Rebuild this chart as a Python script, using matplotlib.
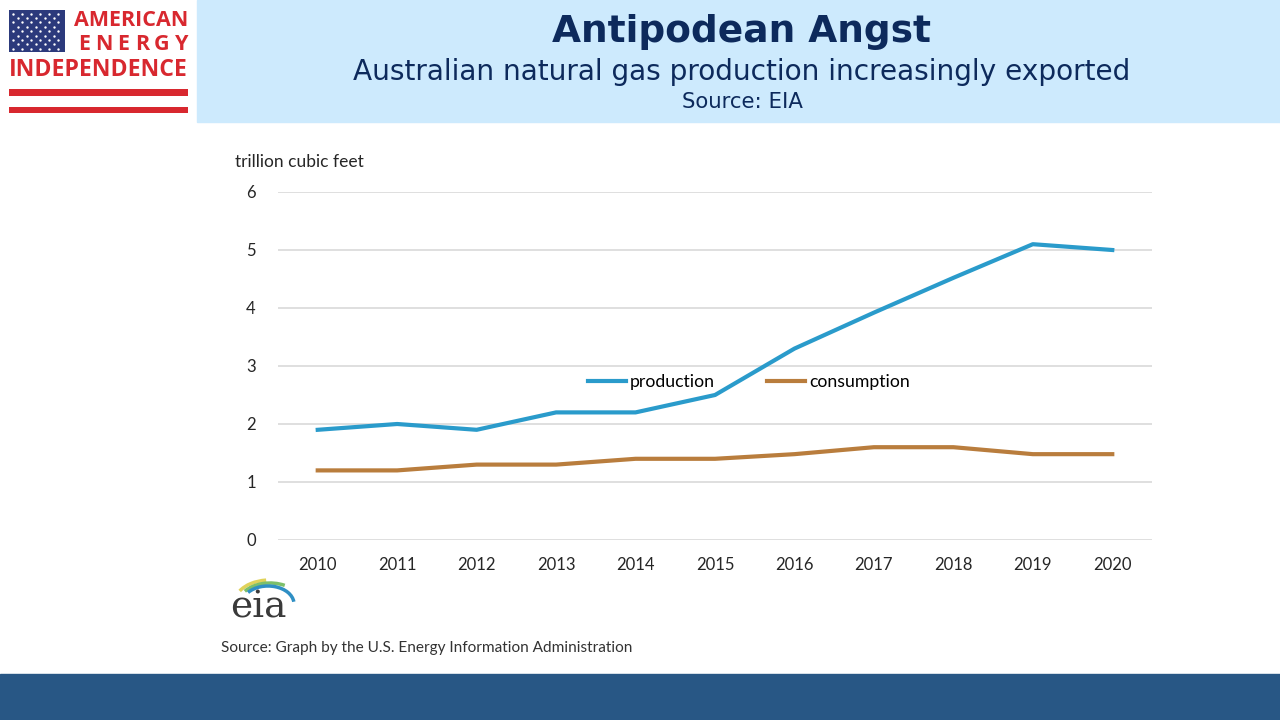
import numpy as np
import matplotlib
matplotlib.use("Agg")
import matplotlib.pyplot as plt
from matplotlib.patches import Rectangle, Arc

years = ["2010", "2011", "2012", "2013", "2014", "2015",
         "2016", "2017", "2018", "2019", "2020"]
production = [1.9, 2.0, 1.9, 2.2, 2.2, 2.5, 3.3, 3.92, 4.52, 5.1, 5.0]
consumption = [1.2, 1.2, 1.3, 1.3, 1.4, 1.4, 1.48, 1.6, 1.6, 1.48, 1.48]
yticks = [0, 1, 2, 3, 4, 5, 6]

W, H = 1280, 720
fig = plt.figure(figsize=(12.8, 7.2), dpi=100)
fig.patch.set_facecolor("white")

def fx(px):
    return px / W

def fy(py):
    return 1 - py / H

# Bandeau du haut et pied de page
fig.patches.append(Rectangle((fx(197), fy(122)), fx(W - 197), 122 / H,
                             transform=fig.transFigure, color="#cdeafd", zorder=0))
fig.patches.append(Rectangle((0, 0), 1, 46 / H,
                             transform=fig.transFigure, color="#285785", zorder=0))

# Titres
navy = "#0d2a5c"
fig.text(fx(742), fy(32), "Antipodean Angst", ha="center", va="center",
         fontsize=27, fontweight="bold", color=navy, family="DejaVu Sans")
fig.text(fx(742), fy(72), "Australian natural gas production increasingly exported",
         ha="center", va="center", fontsize=20.2, color=navy, family="DejaVu Sans")
fig.text(fx(742), fy(102), "Source: EIA", ha="center", va="center",
         fontsize=15.3, color=navy, family="DejaVu Sans")

# Logo American Energy Independence (décor)
red = "#d8282f"
logo = fig.add_axes([0, 0, 1, 1], zorder=2)
logo.set_xlim(0, W)
logo.set_ylim(H, 0)
logo.axis("off")
logo.add_patch(Rectangle((9, 10), 56, 42, color="#2c3a7c", lw=0))
sx, sy = [], []
for r in range(9):
    n = 6 if r % 2 == 0 else 5
    off = 13 if r % 2 == 0 else 17.5
    for c in range(n):
        sx.append(off + c * 9)
        sy.append(13.5 + r * 4.4)
logo.scatter(sx, sy, s=3, color="white", linewidths=0, zorder=3)
logo.text(188, 20, "AMERICAN", ha="right", va="center", fontsize=15.5,
          fontweight="bold", color=red, family="Open Sans")
for i, ch in enumerate("ENERGY"):
    logo.text(84 + i * 19.5, 45, ch, ha="center", va="center", fontsize=15.5,
              fontweight="bold", color=red, family="Open Sans")
logo.text(98.5, 70, "INDEPENDENCE", ha="center", va="center", fontsize=16.6,
          fontweight="bold", color=red, family="Open Sans")
logo.add_patch(Rectangle((9, 89), 179, 7, color=red, lw=0))
logo.add_patch(Rectangle((9, 107), 179, 6, color=red, lw=0))

# Logo eia
logo.text(258, 607, "eia", ha="center", va="center", fontsize=27,
          color="#3a3a3a", family="DejaVu Serif")
logo.add_patch(Arc((270, 602), 70, 44, theta1=-160, theta2=-100,
                   color="#e0d25a", lw=2.5))
logo.add_patch(Arc((270, 603), 62, 40, theta1=-155, theta2=-50,
                   color="#7cbf6a", lw=2.5))
logo.add_patch(Arc((268, 604), 52, 36, theta1=-150, theta2=-5,
                   color="#2f8fc4", lw=2.5))

# Graphique
ax = fig.add_axes([fx(278), fy(540), fx(1152 - 278), (540 - 192) / H], zorder=3)
x = np.arange(len(years))
ax.plot(x, production, color="#2a9bcb", lw=3, label="production",
        solid_joinstyle="round")
ax.plot(x, consumption, color="#b97d3d", lw=3, label="consumption",
        solid_joinstyle="round")
ax.set_xlim(-0.5, len(years) - 0.5)
ax.set_ylim(0, 6)
ax.set_yticks(yticks)
ax.set_xticks(x)
ax.set_xticklabels(years)
ax.grid(axis="y", color="#d9d9d9", lw=1.2)
ax.set_axisbelow(True)
for s in ax.spines.values():
    s.set_visible(False)
ax.tick_params(length=0, labelsize=12, colors="#262626")
ax.tick_params(axis="x", pad=12)
ax.tick_params(axis="y", pad=16)
for lab in ax.get_xticklabels() + ax.get_yticklabels():
    lab.set_family("Lato")
ax.patch.set_alpha(0)

ax.legend(loc="center", bbox_to_anchor=(0.539, 0.454), ncol=2, frameon=False,
          prop={"family": "Lato", "size": 12.7}, handlelength=2.15,
          handletextpad=0.25, columnspacing=2.95)

fig.text(fx(235), fy(162), "trillion cubic feet", ha="left", va="center",
         fontsize=12.5, color="#262626", family="Lato")
fig.text(fx(221), fy(648), "Source: Graph by the U.S. Energy Information Administration",
         ha="left", va="center", fontsize=11.1, color="#333333", family="Lato")

fig.savefig("out.png", dpi=100)
